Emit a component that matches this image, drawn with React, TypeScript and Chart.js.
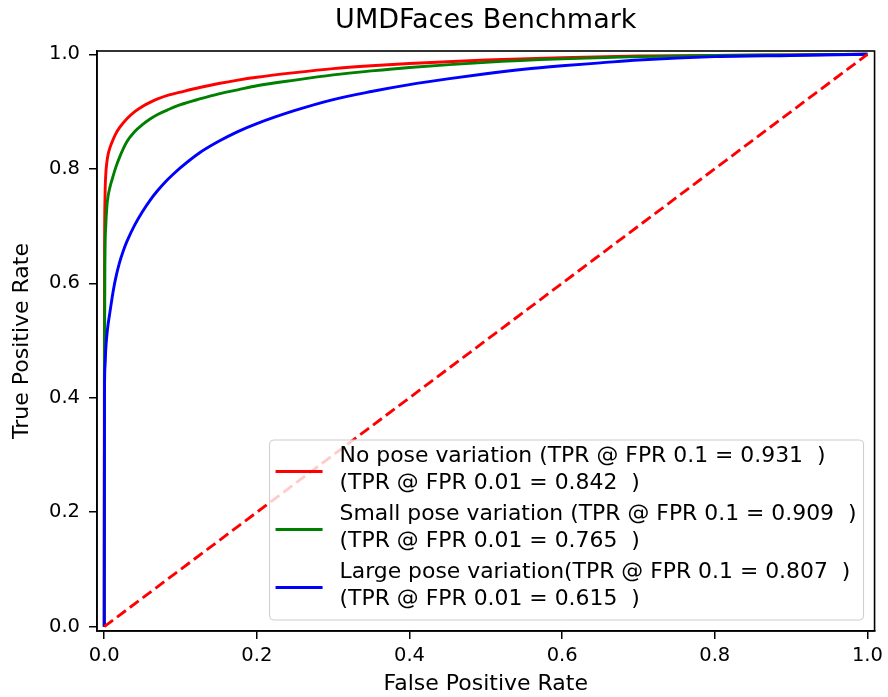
import React, { useEffect, useRef } from "react";
import { Chart, registerables } from "chart.js";

Chart.register(...registerables);

// ---- Data ----
const noPoseFpr = [0, 0.0002, 0.0005, 0.001, 0.002, 0.0035, 0.005, 0.0075, 0.01, 0.015, 0.02, 0.03, 0.04, 0.05, 0.06, 0.07, 0.085, 0.1, 0.125, 0.15, 0.175, 0.2, 0.25, 0.3, 0.35, 0.4, 0.5, 0.6, 0.7, 0.8, 0.9, 1.0];
const noPoseTpr = [0, 0.5, 0.68, 0.75, 0.79, 0.812, 0.825, 0.837, 0.846, 0.861, 0.872, 0.888, 0.9, 0.909, 0.916, 0.922, 0.929, 0.934, 0.942, 0.949, 0.955, 0.96, 0.968, 0.975, 0.98, 0.984, 0.99, 0.994, 0.997, 0.998, 0.999, 1.0];

const smallPoseFpr = [0, 0.0003, 0.001, 0.002, 0.0035, 0.005, 0.0075, 0.01, 0.015, 0.02, 0.03, 0.04, 0.05, 0.06, 0.07, 0.085, 0.1, 0.125, 0.15, 0.175, 0.2, 0.25, 0.3, 0.35, 0.4, 0.5, 0.6, 0.7, 0.8, 0.9, 1.0];
const smallPoseTpr = [0, 0.45, 0.65, 0.7, 0.735, 0.752, 0.768, 0.78, 0.802, 0.82, 0.848, 0.865, 0.877, 0.887, 0.895, 0.904, 0.912, 0.922, 0.931, 0.938, 0.945, 0.955, 0.964, 0.971, 0.977, 0.986, 0.992, 0.996, 0.998, 0.999, 1.0];

const largePoseFpr = [0, 0.0003, 0.001, 0.002, 0.0035, 0.005, 0.0075, 0.01, 0.0125, 0.015, 0.02, 0.025, 0.03, 0.04, 0.05, 0.06, 0.07, 0.08, 0.09, 0.1, 0.125, 0.15, 0.175, 0.2, 0.25, 0.3, 0.35, 0.4, 0.45, 0.5, 0.55, 0.6, 0.65, 0.7, 0.8, 0.9, 1.0];
const largePoseTpr = [0, 0.4, 0.455, 0.485, 0.51, 0.528, 0.55, 0.572, 0.592, 0.609, 0.636, 0.657, 0.674, 0.702, 0.725, 0.745, 0.762, 0.777, 0.79, 0.802, 0.828, 0.848, 0.865, 0.879, 0.902, 0.921, 0.935, 0.947, 0.957, 0.966, 0.974, 0.98, 0.985, 0.99, 0.996, 0.998, 1.0];

const chanceFpr = [0, 1];
const chanceTpr = [0, 1];

const xTickValues = [0, 0.2, 0.4, 0.6, 0.8, 1.0];
const yTickValues = [0, 0.2, 0.4, 0.6, 0.8, 1.0];

const chartTitle = "UMDFaces Benchmark";
const xAxisTitle = "False Positive Rate";
const yAxisTitle = "True Positive Rate";

const legendLines = [
  ["No pose variation (TPR @ FPR 0.1 = 0.931  )", "(TPR @ FPR 0.01 = 0.842  )"],
  ["Small pose variation (TPR @ FPR 0.1 = 0.909  )", "(TPR @ FPR 0.01 = 0.765  )"],
  ["Large pose variation(TPR @ FPR 0.1 = 0.807  )", "(TPR @ FPR 0.01 = 0.615  )"],
];
const seriesColors = ["#ff0000", "#008000", "#0000ff"];

const FONT = '"DejaVu Sans", "Liberation Sans", sans-serif';

function toPoints(xs: number[], ys: number[]) {
  return xs.map((x, i) => ({ x, y: ys[i] }));
}

const titlePlugin = {
  id: "topTitle",
  afterDraw(chart: any) {
    const { ctx, chartArea } = chart;
    ctx.save();
    ctx.font = `27px ${FONT}`;
    ctx.fillStyle = "#000";
    ctx.textAlign = "center";
    ctx.textBaseline = "middle";
    ctx.fillText(chartTitle, (chartArea.left + chartArea.right) / 2, 21);
    ctx.restore();
  },
};

const framePlugin = {
  id: "frame",
  afterDatasetsDraw(chart: any) {
    const { ctx, chartArea } = chart;
    ctx.save();
    ctx.strokeStyle = "#000";
    ctx.lineWidth = 1.6;
    ctx.strokeRect(chartArea.left, chartArea.top, chartArea.right - chartArea.left, chartArea.bottom - chartArea.top);
    ctx.restore();
  },
};

const legendPlugin = {
  id: "boxLegend",
  afterDatasetsDraw(chart: any) {
    const { ctx, chartArea } = chart;
    const right = chartArea.right - 11;
    const bottom = chartArea.bottom - 11;
    const width = 594;
    const height = 180;
    const left = right - width;
    const top = bottom - height;
    ctx.save();
    ctx.beginPath();
    (ctx as any).roundRect(left, top, width, height, 4);
    ctx.fillStyle = "rgba(255,255,255,0.8)";
    ctx.fill();
    ctx.strokeStyle = "#cccccc";
    ctx.lineWidth = 1;
    ctx.stroke();
    ctx.font = `21.9px ${FONT}`;
    ctx.textAlign = "left";
    ctx.textBaseline = "middle";
    legendLines.forEach((lines, i) => {
      const y1 = top + 16 + i * 58;
      ctx.strokeStyle = seriesColors[i];
      ctx.lineWidth = 2.9;
      ctx.beginPath();
      ctx.moveTo(left + 6, y1 + 15.5);
      ctx.lineTo(left + 53, y1 + 15.5);
      ctx.stroke();
      ctx.fillStyle = "#000";
      lines.forEach((t, j) => {
        ctx.fillText(t, left + 70, y1 + j * 27);
      });
    });
    ctx.restore();
  },
};

export default function App() {
  const ref = useRef<HTMLCanvasElement | null>(null);
  useEffect(() => {
    if (!ref.current) return;
    const mk = (label: string, xs: number[], ys: number[], color: string, order: number, dash?: number[]) => ({
      label,
      data: toPoints(xs, ys),
      borderColor: color,
      backgroundColor: color,
      borderWidth: 2.9,
      pointRadius: 0,
      showLine: true,
      fill: false,
      borderDash: dash || [],
      cubicInterpolationMode: "monotone" as const,
      order,
    });
    const chart = new Chart(ref.current, {
      type: "scatter",
      data: {
        datasets: [
          mk("No pose variation", noPoseFpr, noPoseTpr, seriesColors[0], 4),
          mk("Small pose variation", smallPoseFpr, smallPoseTpr, seriesColors[1], 3),
          mk("Large pose variation", largePoseFpr, largePoseTpr, seriesColors[2], 2),
          mk("Chance", chanceFpr, chanceTpr, "#ff0000", 1, [11, 5]),
        ],
      },
      options: {
        responsive: false,
        animation: false,
        layout: { padding: { top: 51, right: 11, left: 0, bottom: 0 } },
        plugins: {
          legend: { display: false },
          tooltip: { enabled: false },
          title: { display: false },
        },
        scales: {
          x: {
            type: "linear",
            min: -0.0095,
            max: 1.0094,
            afterFit(scale: any) {
              scale.height = 66;
            },
            afterBuildTicks(scale: any) {
              scale.ticks = xTickValues.map((v) => ({ value: v }));
            },
            ticks: {
              font: { family: FONT, size: 19.5 },
              color: "#000",
              padding: 5,
              maxRotation: 0,
              autoSkip: false,
              callback: (v: any) => Number(v).toFixed(1),
            },
            grid: { drawOnChartArea: false, drawTicks: true, tickLength: 8, color: "#000", lineWidth: 1.5 },
            border: { display: true, color: "#000", width: 1.6 },
            title: { display: true, text: xAxisTitle, font: { family: FONT, size: 22 }, color: "#000", padding: { top: 0, bottom: 0 } },
          },
          y: {
            type: "linear",
            min: -0.0075,
            max: 1.0058,
            afterFit(scale: any) {
              scale.width = 97;
            },
            afterBuildTicks(scale: any) {
              scale.ticks = yTickValues.map((v) => ({ value: v }));
            },
            ticks: {
              font: { family: FONT, size: 19.5 },
              color: "#000",
              padding: 9,
              autoSkip: false,
              callback: (v: any) => Number(v).toFixed(1),
            },
            grid: { drawOnChartArea: false, drawTicks: true, tickLength: 8, color: "#000", lineWidth: 1.5 },
            border: { display: true, color: "#000", width: 1.6 },
            title: { display: true, text: yAxisTitle, font: { family: FONT, size: 22 }, color: "#000", padding: { top: 9, bottom: 0 } },
          },
        },
      },
      plugins: [titlePlugin, legendPlugin, framePlugin],
    });
    return () => chart.destroy();
  }, []);
  return (
    <canvas
      ref={ref}
      width={888}
      height={697}
      style={{ position: "fixed", left: 0, top: 0, width: 888, height: 697, background: "#fff" }}
    />
  );
}
